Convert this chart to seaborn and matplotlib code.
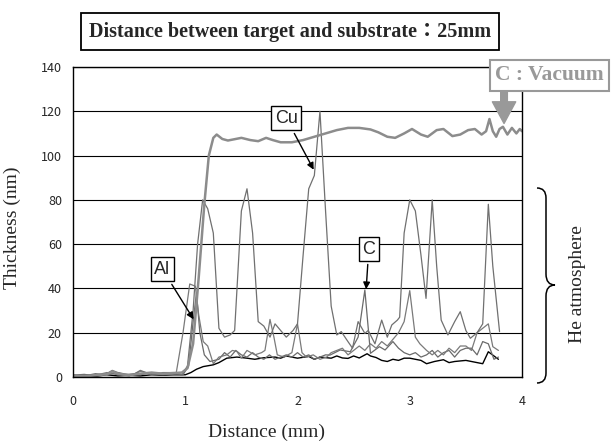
import numpy as np
import pandas as pd
import seaborn as sns
import matplotlib.pyplot as plt
from matplotlib.path import Path
from matplotlib.patches import PathPatch

# data
vac_x = [0, 0.1, 0.2, 0.3, 0.35, 0.4, 0.5, 0.6, 0.7, 0.8, 0.9, 0.97, 1.02, 1.07, 1.12, 1.17, 1.21, 1.25,
         1.28, 1.33, 1.38, 1.45, 1.5, 1.58, 1.65, 1.72, 1.78, 1.85, 1.95, 2.05, 2.15, 2.25, 2.35, 2.45,
         2.55, 2.65, 2.72, 2.8, 2.87, 2.95, 3.02, 3.1, 3.16, 3.24, 3.3, 3.38, 3.45, 3.52, 3.58, 3.64,
         3.68, 3.71, 3.74, 3.77, 3.8, 3.83, 3.87, 3.91, 3.95, 3.98, 4.0]
vac_y = [0.5, 0.3, 0.8, 1.2, 2.5, 1.5, 0.8, 1.5, 2.0, 1.5, 1.8, 2, 4, 15, 45, 78, 100, 108,
         109.5, 107.5, 106.8, 107.5, 108, 107, 106.5, 108, 107, 106, 106, 107, 108.5, 110, 111.5, 112.5,
         112.5, 111.8, 110.5, 108.5, 108, 110, 112, 109.5, 108.5, 111.5, 112, 108.8, 109.5, 111.5, 112, 109.5,
         111, 116.5, 111, 108.5, 112, 113, 109.5, 112.5, 110, 112, 111]

cu_x = [0, 0.1, 0.2, 0.3, 0.35, 0.45, 0.55, 0.6, 0.7, 0.8, 0.9, 0.97, 1.02, 1.07, 1.11, 1.155, 1.2, 1.25,
        1.3, 1.35, 1.4, 1.44, 1.5, 1.55, 1.6, 1.65, 1.7, 1.755, 1.8, 1.85, 1.9, 1.96, 2.0, 2.05, 2.1,
        2.15, 2.2, 2.25, 2.3, 2.35, 2.39, 2.44, 2.49, 2.54, 2.6, 2.63, 2.69, 2.75, 2.8, 2.84, 2.89,
        2.91, 2.95, 3.0, 3.05, 3.1, 3.145, 3.2, 3.24, 3.28, 3.34, 3.4, 3.45, 3.5, 3.54, 3.6, 3.65,
        3.7, 3.74, 3.8]
cu_y = [0.8, 1.2, 0.5, 1.5, 3, 1, 1.5, 3, 1, 2, 2, 1, 5, 30, 60, 80, 76, 65,
        22, 18, 19, 21, 75, 85, 65, 25, 23, 18, 24, 21, 18, 21, 24, 55, 85,
        91, 120, 75, 32, 19, 20.5, 16.7, 13, 25, 19.7, 21, 15, 25.7, 18, 23.5, 25.7,
        27, 65, 80, 75, 55, 35.5, 80, 50, 25.7, 19, 25, 29.5, 21, 17.5, 20, 24,
        78, 50, 20.5]

al_x = [0, 0.1, 0.2, 0.3, 0.4, 0.5, 0.6, 0.7, 0.8, 0.88, 0.92, 0.98, 1.04, 1.09, 1.12, 1.16, 1.2, 1.25,
        1.3, 1.37, 1.42, 1.46, 1.5, 1.55, 1.62, 1.68, 1.71, 1.755, 1.79, 1.82, 1.88, 1.95, 2.0, 2.04,
        2.08, 2.14, 2.2, 2.26, 2.3, 2.4, 2.45, 2.5, 2.55, 2.6, 2.65, 2.7, 2.75, 2.8, 2.85, 2.9, 2.95,
        3.0, 3.05, 3.09, 3.15, 3.2, 3.25, 3.3, 3.35, 3.4, 3.45, 3.5, 3.55, 3.6, 3.65, 3.7, 3.74, 3.79]
al_y = [0.3, 1, 0.8, 2, 1, 0.5, 2.5, 1.5, 1, 1.5, 2, 20, 42, 41, 28, 16, 14, 6,
        9, 10, 12, 11.5, 8.5, 12, 10, 11, 12, 26, 18, 10, 9, 11, 24, 11,
        9, 10, 8, 9, 11, 13, 10, 12, 14, 12, 15, 13, 16, 14, 17, 20, 25,
        39, 18, 15, 12, 10, 12, 10, 13, 11, 14, 14, 12, 20, 22, 24, 13.7, 12]

c_x = [0, 0.1, 0.2, 0.3, 0.4, 0.5, 0.6, 0.7, 0.8, 0.9, 0.98, 1.03, 1.07, 1.1, 1.13, 1.17, 1.22, 1.3,
       1.35, 1.4, 1.45, 1.5, 1.55, 1.6, 1.65, 1.7, 1.75, 1.8, 1.85, 1.9, 1.95, 2.0, 2.05, 2.1, 2.15,
       2.2, 2.25, 2.29, 2.38, 2.47, 2.54, 2.6, 2.65, 2.73, 2.78, 2.85, 2.9, 2.95, 3.0, 3.05, 3.1,
       3.15, 3.2, 3.25, 3.3, 3.35, 3.4, 3.45, 3.5, 3.55, 3.6, 3.65, 3.7, 3.75, 3.79]
c_y = [1, 0.5, 1.5, 1, 2, 1, 1, 2, 1.5, 1, 1, 5, 25, 38, 20, 10, 7, 8,
       11, 9, 12, 10, 9, 11, 9, 8, 10, 8, 9, 10, 9, 11, 9, 10, 8,
       9, 10, 9.9, 12.2, 11.4, 18, 39.3, 10.7, 13.7, 12.2, 16, 13, 11, 10, 11, 9,
       10, 12, 9, 11, 12, 9, 12, 13, 13, 10, 16, 15, 8, 9]

blk_x = [0, 0.1, 0.2, 0.3, 0.4, 0.5, 0.6, 0.7, 0.8, 0.9, 1.0, 1.05, 1.1, 1.16, 1.25, 1.3, 1.37, 1.46,
         1.55, 1.62, 1.7, 1.8, 1.85, 1.9, 2.0, 2.1, 2.15, 2.2, 2.3, 2.35, 2.4, 2.45, 2.5, 2.55, 2.62,
         2.65, 2.7, 2.75, 2.8, 2.85, 2.9, 2.95, 3.0, 3.05, 3.1, 3.15, 3.22, 3.3, 3.35, 3.4, 3.5, 3.6,
         3.65, 3.7, 3.79]
blk_y = [0.5, 0.8, 0.3, 1, 0.5, 0.8, 0.5, 1, 0.8, 1, 1, 2, 3.5, 4.7, 5.5, 6.5, 8.5, 9,
         8.5, 8, 8.7, 9, 8.5, 9.5, 8.5, 9.3, 8, 9, 8.5, 9.5, 8.6, 8.4, 9.5, 8.6, 10.5,
         9.5, 8.8, 7.5, 7, 8, 7.5, 8.5, 8.5, 8, 7.5, 6, 7, 7.8, 6.5, 7, 7.5, 6.5,
         6, 11.4, 8]

y_ticks = [0, 20, 40, 60, 80, 100, 120, 140]
x_ticks = [0, 1, 2, 3, 4]

sns.set_style("white")
plt.rcParams['font.family'] = ['Liberation Serif', 'Noto Sans CJK JP']

fig = plt.figure(figsize=(6.12, 4.46), dpi=100)
ax = fig.add_axes([73 / 612, 1 - 377 / 446, 449 / 612, 310 / 446])

for yy in y_ticks:
    ax.axhline(yy, color="black", lw=0.8, zorder=1)

sns.lineplot(x=blk_x, y=blk_y, ax=ax, color="black", lw=1.0, sort=False, estimator=None)
sns.lineplot(x=c_x, y=c_y, ax=ax, color="#6a6a6a", lw=0.9, sort=False, estimator=None)
sns.lineplot(x=al_x, y=al_y, ax=ax, color="#7a7a7a", lw=0.9, sort=False, estimator=None)
sns.lineplot(x=cu_x, y=cu_y, ax=ax, color="#707070", lw=0.9, sort=False, estimator=None)
sns.lineplot(x=vac_x, y=vac_y, ax=ax, color="#8c8c8c", lw=1.8, sort=False, estimator=None)

ax.set_xlim(0, 4)
ax.set_ylim(0, 140)
ax.set_xticks(x_ticks)
ax.set_yticks(y_ticks)
tick_font = {'family': ['Noto Sans CJK JP'], 'size': 9}
ax.set_xticklabels([str(t) for t in x_ticks], fontdict=tick_font)
ax.set_yticklabels([str(t) for t in y_ticks], fontdict=tick_font)
ax.tick_params(axis='x', direction='in', length=4, pad=13, color='black')
ax.tick_params(axis='y', length=0, pad=8)
for s in ax.spines.values():
    s.set_color('black')
    s.set_linewidth(1.0)

ax.set_xlabel("Distance (mm)", fontsize=14)
ax.xaxis.set_label_coords(0.432, -0.15)
ax.set_ylabel("Thickness (nm)", fontsize=14)
ax.yaxis.set_label_coords(-0.115, 0.48)

# labels with arrows
lab = dict(fontsize=13, family=['Liberation Sans'],
           bbox=dict(boxstyle="square,pad=0.2", fc="white", ec="black", lw=1.0))
arr = dict(arrowstyle="-|>", color="black", lw=1.0, mutation_scale=10)
ax.annotate("Cu", xy=(2.156, 92.5), xytext=(1.90, 116.8), ha="center", va="center",
            arrowprops=arr, **lab)
ax.annotate("Al", xy=(1.087, 25), xytext=(0.797, 48.6), ha="center", va="center",
            arrowprops=arr, **lab)
ax.annotate("C", xy=(2.61, 38.4), xytext=(2.635, 57.8), ha="center", va="center",
            arrowprops=arr, **lab)

# vacuum label: box runs off the right edge like in the original
ax.annotate("", xy=(3.84, 114.5), xytext=(3.84, 129), annotation_clip=False,
            arrowprops=dict(arrowstyle="simple,head_length=1.3,head_width=1.4,tail_width=0.4",
                            color="#999999", shrinkA=0, shrinkB=0, mutation_scale=12))
ax.text(3.76, 136.2, "C : Vacuum", ha="left", va="center", clip_on=False,
        fontsize=15.5, fontweight="bold", color="#999999",
        bbox=dict(boxstyle="square,pad=0.25", fc="white", ec="#999999", lw=1.5))

fig.text(290 / 612, 1 - 31.5 / 446, "Distance between target and substrate：25mm",
         ha="center", va="center", fontsize=14.5, fontweight="bold",
         bbox=dict(boxstyle="square,pad=0.4", fc="white", ec="black", lw=1.3))

# curly brace on the right
def fp(px, py):
    return (px / 612, 1 - py / 446)

verts = [fp(537, 188), fp(546, 188), fp(546, 198), fp(546, 274), fp(546, 285), fp(555, 285),
         fp(546, 285), fp(546, 296), fp(546, 373), fp(546, 383), fp(537, 383)]
codes = [Path.MOVETO, Path.CURVE3, Path.CURVE3, Path.LINETO, Path.CURVE3, Path.CURVE3,
         Path.CURVE3, Path.CURVE3, Path.LINETO, Path.CURVE3, Path.CURVE3]
fig.add_artist(PathPatch(Path(verts, codes), transform=fig.transFigure, fill=False,
                         ec="black", lw=1.1))
fig.text(578 / 612, 1 - 284 / 446, "He atmosphere", rotation=90, ha="center", va="center",
         fontsize=14)

fig.savefig("out.png", dpi=100)
